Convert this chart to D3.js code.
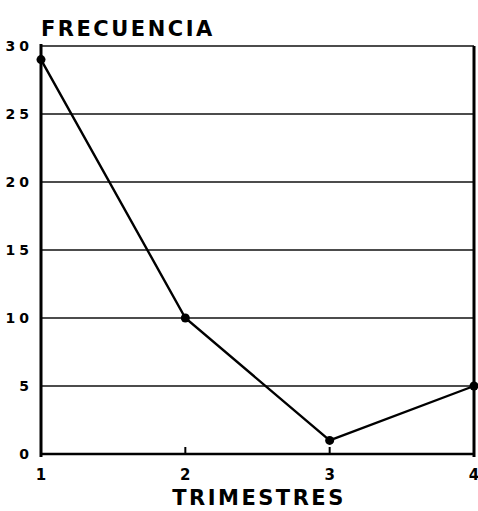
<!DOCTYPE html>
<html>
<head>
<meta charset="utf-8">
<script src="https://cdn.jsdelivr.net/npm/d3@7"></script>
<style>
  body { margin: 0; background: #fff; }
  text { font-family: "DejaVu Sans", sans-serif; font-weight: bold; fill: #000; }
</style>
</head>
<body>
<div id="chart"></div>
<script>
let trimestres = [1, 2, 3, 4];
let frecuencia = [29, 10, 1, 5];
let yTicks = [0, 5, 10, 15, 20, 25, 30];

let margin = {top: 46, right: 4, bottom: 57, left: 41};
let width = 478 - margin.left - margin.right;
let height = 511 - margin.top - margin.bottom;

let svg = d3.select("#chart")
    .append("svg")
    .attr("width", 478)
    .attr("height", 511);

let g = svg.append("g")
    .attr("transform", "translate(" + margin.left + "," + margin.top + ")");

let x = d3.scaleLinear().domain([1, 4]).range([0, width]);
let y = d3.scaleLinear().domain([0, 30]).range([height, 0]);

// gridlines
g.append("g")
    .selectAll("line")
    .data(yTicks.filter(function(d) { return d > 0; }))
    .enter().append("line")
    .attr("x1", 0)
    .attr("x2", width)
    .attr("y1", function(d) { return y(d); })
    .attr("y2", function(d) { return y(d); })
    .attr("stroke", "#111")
    .attr("stroke-width", 1.6);

// baseline
g.append("line")
    .attr("x1", 0).attr("x2", width)
    .attr("y1", y(0)).attr("y2", y(0))
    .attr("stroke", "#000").attr("stroke-width", 2.5);

// frame verticals
g.append("line")
    .attr("x1", 0).attr("x2", 0)
    .attr("y1", y(30) - 2).attr("y2", y(0) + 3)
    .attr("stroke", "#000").attr("stroke-width", 3);
g.append("line")
    .attr("x1", width).attr("x2", width)
    .attr("y1", y(30)).attr("y2", y(0) + 3)
    .attr("stroke", "#000").attr("stroke-width", 3);

// small x ticks
g.append("g")
    .selectAll("line")
    .data(trimestres.slice(1, 3))
    .enter().append("line")
    .attr("x1", function(d) { return x(d); })
    .attr("x2", function(d) { return x(d); })
    .attr("y1", y(0))
    .attr("y2", y(0) - 7)
    .attr("stroke", "#000").attr("stroke-width", 2);

// y labels
g.append("g")
    .selectAll("text")
    .data(yTicks)
    .enter().append("text")
    .attr("x", -8)
    .attr("y", function(d) { return y(d); })
    .attr("dy", "0.36em")
    .attr("text-anchor", "end")
    .attr("font-size", 14)
    .attr("letter-spacing", 4)
    .text(function(d) { return d; });

// x labels
g.append("g")
    .selectAll("text")
    .data(trimestres)
    .enter().append("text")
    .attr("x", function(d) { return x(d); })
    .attr("y", y(0) + 26)
    .attr("text-anchor", "middle")
    .attr("font-size", 15)
    .text(function(d) { return d; });

// line
let line = d3.line()
    .x(function(d, i) { return x(trimestres[i]); })
    .y(function(d) { return y(d); });

g.append("path")
    .datum(frecuencia)
    .attr("fill", "none")
    .attr("stroke", "#000")
    .attr("stroke-width", 2.4)
    .attr("d", line);

g.append("g")
    .selectAll("circle")
    .data(frecuencia)
    .enter().append("circle")
    .attr("cx", function(d, i) { return x(trimestres[i]); })
    .attr("cy", function(d) { return y(d); })
    .attr("r", 4.5)
    .attr("fill", "#000");

// titles
svg.append("text")
    .attr("x", 41)
    .attr("y", 36)
    .attr("font-size", 21)
    .attr("letter-spacing", 2.5)
    .text("FRECUENCIA");

svg.append("text")
    .attr("x", 259)
    .attr("y", 505)
    .attr("text-anchor", "middle")
    .attr("font-size", 21)
    .attr("letter-spacing", 2.5)
    .text("TRIMESTRES");
</script>
</body>
</html>
